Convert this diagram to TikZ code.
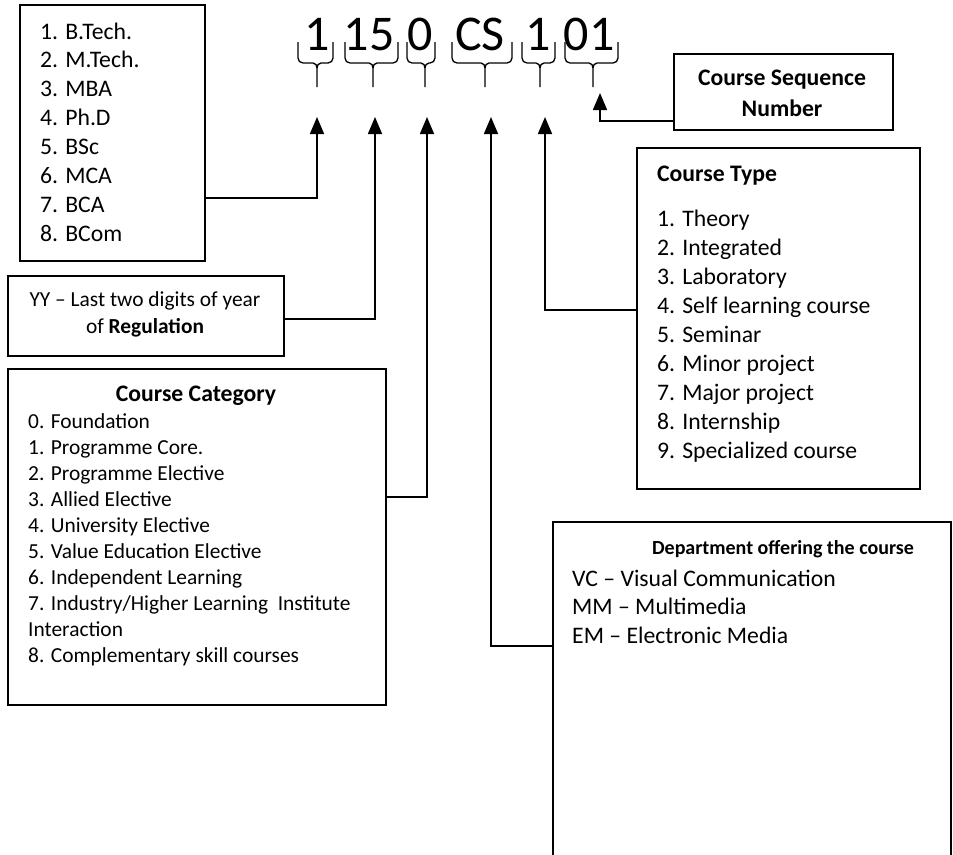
\documentclass[tikz,border=0pt]{standalone}
\usepackage{fontspec}
\setmainfont{Carlito}
\usetikzlibrary{arrows.meta,positioning}

\tikzset{
  box/.style={draw,line width=1.6pt,inner sep=0pt,anchor=north west},
  item/.style={anchor=base west,inner sep=0pt,font=\fontsize{23.7}{28.9}\selectfont},
  smallitem/.style={item,font=\fontsize{21.4}{26}\selectfont},
  head/.style={item,font=\fontsize{23.7}{28.9}\selectfont\bfseries},
  code/.style={anchor=base,inner sep=0pt,font=\fontsize{50}{60}\selectfont},
  link/.style={line width=1.6pt,-{Triangle[length=17pt,width=14pt]}},
  brace/.style={line width=1.3pt},
}

\begin{document}
\begin{tikzpicture}[x=1pt,y=-1pt]
\path[use as bounding box] (0,0) rectangle (953,854);
\clip (0,0) rectangle (953,854);

% the course code
\foreach \g/\x in {1/317,15/369,0/420,CS/480,1/538,01/589}
  \node[code] (code\x) at (\x,50) {\g};
\foreach \l/\m/\r in {298/317/333,345/373/398,407/425/435,452/485/512,522/540/555,565/593/618}
  \draw[brace] (\l,42) -- (\l,58) to[out=-90,in=180] ({\l+5},63) -- ({\m-4},63)
    to[out=0,in=90] (\m,68) -- (\m,87)
    (\m,68) to[out=90,in=180] ({\m+4},63) -- ({\r-5},63) to[out=0,in=-90] (\r,58) -- (\r,42);

% arrow tips under the code
\coordinate (t1) at (317,117);
\coordinate (t2) at (375,117);
\coordinate (t3) at (427,117);
\coordinate (t4) at (491,117);
\coordinate (t5) at (545,117);
\coordinate (t6) at (600,93);

% programme
\node[box,minimum width=185pt,minimum height=256pt] (prog) at (19,4) {};
\foreach \t [count=\i] in {1. B.Tech.,2. M.Tech.,3. MBA,4. Ph.D,5. BSc,6. MCA,7. BCA,8. BCom}
  \node[item] (prog\i) at (40,{39+28.9*(\i-1)}) {\t};

% regulation
\node[box,minimum width=276pt,minimum height=80pt] (yy) at (7,275) {};
\node[smallitem,anchor=base] (yy1) at (145,306) {YY -- Last two digits of year};
\node[smallitem,anchor=base] (yy2) at (145,333) {of \textbf{Regulation}};

% course category
\node[box,minimum width=378pt,minimum height=336pt] (cat) at (7,368) {};
\node[head,anchor=base] (cathead) at (196,401) {Course Category};
\foreach \t [count=\i] in {0. Foundation,1. Programme Core.,2. Programme Elective,3. Allied Elective,
    4. University Elective,5. Value Education Elective,6. Independent Learning,
    7. Industry/Higher Learning\ \ Institute,Interaction,8. Complementary skill courses}
  \node[smallitem] (cat\i) at (28,{428+26.1*(\i-1)}) {\t};

% course type
\node[box,minimum width=283pt,minimum height=341pt] (type) at (636,147) {};
\node[head] (typehead) at (657,181) {Course Type};
\foreach \t [count=\i] in {1. Theory,2. Integrated,3. Laboratory,4. Self learning course,5. Seminar,
    6. Minor project,7. Major project,8. Internship,9. Specialized course}
  \node[item] (type\i) at (657,{226+29.1*(\i-1)}) {\t};

% department
\node[box,minimum width=398pt,minimum height=345pt] (dept) at (552,521) {};
\node[head,anchor=base,font=\fontsize{20}{24}\selectfont\bfseries] (depthead) at (783,554) {Department offering the course};
\node[item] (dept1) at (572,586) {VC -- Visual Communication};
\node[item] (dept2) at (572,614) {MM -- Multimedia};
\node[item] (dept3) at (572,643) {EM -- Electronic Media};

% sequence number
\node[box,minimum width=219pt,minimum height=76pt] (seq) at (673,53) {};
\node[head,anchor=base] (seq1) at (782,85) {Course Sequence};
\node[head,anchor=base] (seq2) at (782,116) {Number};

% connectors
\draw[link] (prog.east |- 0,198) -| (t1);
\draw[link] (yy.east |- 0,319) -| (t2);
\draw[link] (cat.east |- 0,497) -| (t3);
\draw[link] (dept.west |- 0,646) -| (t4);
\draw[link] (type.west |- 0,310) -| (t5);
\draw[link] (seq.west |- 0,121) -| (t6);
\end{tikzpicture}
\end{document}
